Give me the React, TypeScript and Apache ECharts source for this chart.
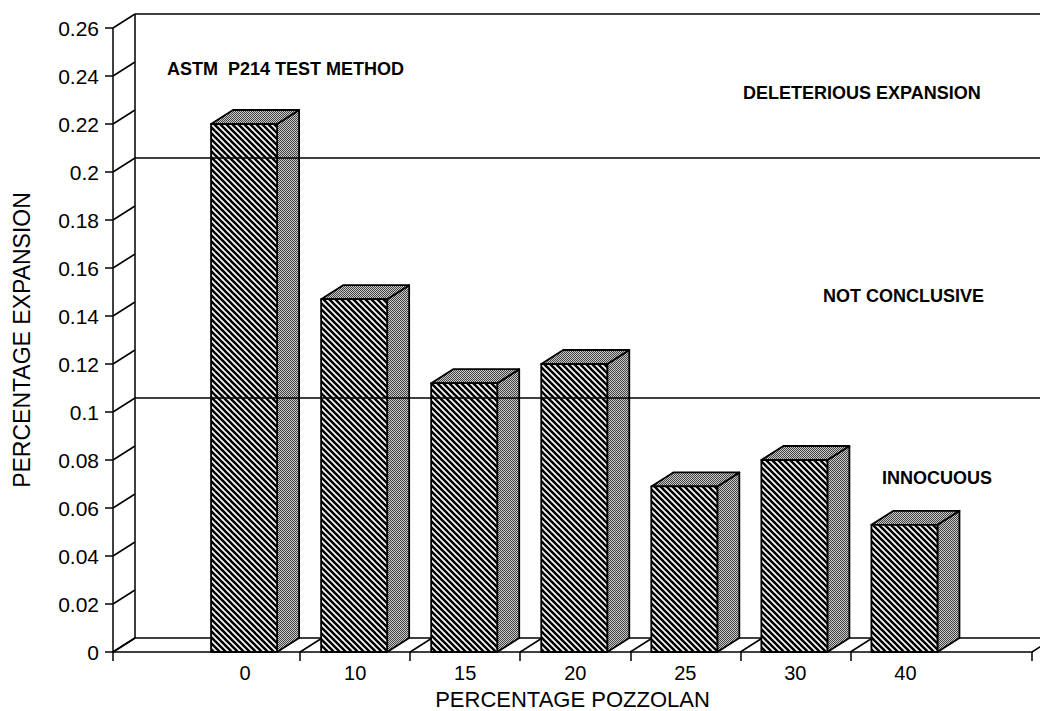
import React, { useEffect, useRef } from 'react';
import * as echarts from 'echarts';

// ---- data ----
const categories = ['0', '10', '15', '20', '25', '30', '40'];
const expansion = [0.22, 0.147, 0.112, 0.12, 0.069, 0.08, 0.053];
const yTickValues = [0, 0.02, 0.04, 0.06, 0.08, 0.1, 0.12, 0.14, 0.16, 0.18, 0.2, 0.22, 0.24, 0.26];
const thresholds = [0.1, 0.2];
const methodLabel = 'ASTM\u00a0\u00a0P214 TEST METHOD';
const zoneLabels = ['DELETERIOUS EXPANSION', 'NOT CONCLUSIVE', 'INNOCUOUS'];
const xTickPositions = [-1.2, 0.5, 1.5, 2.5, 3.5, 4.5, 5.5, 7.15];
const xLabelPositions = [0, 1, 2, 3, 4, 5, 6];

const X_MIN = -1.2;
const X_MAX = 7.15;
const Y_MAX = 0.26;
const DEPTH_UNITS = 0.2;
const DEPTH_Y = 14;
const FONT = '"Liberation Sans", Arial, Helvetica, sans-serif';

function makeHatch(): HTMLCanvasElement {
  const c = document.createElement('canvas');
  c.width = 6;
  c.height = 6;
  const g = c.getContext('2d')!;
  g.fillStyle = '#fff';
  g.fillRect(0, 0, 6, 6);
  g.strokeStyle = '#000';
  g.lineWidth = 2.6;
  for (const k of [-6, 0, 6]) {
    g.beginPath();
    g.moveTo(k - 1, -1);
    g.lineTo(k + 7, 7);
    g.stroke();
  }
  return c;
}

function makeStipple(): HTMLCanvasElement {
  const c = document.createElement('canvas');
  c.width = 2;
  c.height = 2;
  const g = c.getContext('2d')!;
  g.fillStyle = '#c8c8c8';
  g.fillRect(0, 0, 2, 2);
  g.fillStyle = '#444';
  g.fillRect(0, 0, 1, 1);
  g.fillRect(1, 1, 1, 1);
  return c;
}

export default function App() {
  const ref = useRef<HTMLDivElement>(null);

  useEffect(() => {
    if (!ref.current) return;
    const chart = echarts.init(ref.current, null, { renderer: 'svg' });
    const hatch = { image: makeHatch(), repeat: 'repeat' };
    const stipple = { image: makeStipple(), repeat: 'repeat' };
    const lineStyle = { stroke: '#000', lineWidth: 1.5 };

    const barData = categories.map((_, i) => [i, expansion[i]]);

    const option: any = {
      animation: false,
      backgroundColor: '#fff',
      grid: {
        left: 113,
        right: 8,
        top: 28,
        bottom: 59,
        containLabel: false,
        outerBoundsMode: 'none',
      },
      xAxis: {
        type: 'value',
        min: X_MIN,
        max: X_MAX,
        name: 'PERCENTAGE POZZOLAN',
        nameLocation: 'middle',
        nameGap: 36,
        nameTextStyle: { color: '#000', fontSize: 22, lineHeight: 22, fontFamily: FONT },
        axisLine: { show: true, onZero: false, lineStyle: { color: '#000', width: 1.5 } },
        axisTick: {
          show: true,
          length: 9,
          customValues: xTickPositions,
          lineStyle: { color: '#000', width: 1.5 },
        },
        axisLabel: {
          show: true,
          customValues: xLabelPositions,
          margin: 11,
          color: '#000',
          fontSize: 20,
          fontFamily: FONT,
          formatter: (v: number) => categories[Math.round(v)] ?? '',
        },
        splitLine: { show: false },
      },
      yAxis: {
        type: 'value',
        min: 0,
        max: Y_MAX,
        interval: 0.02,
        name: 'PERCENTAGE EXPANSION',
        nameLocation: 'middle',
        nameRotate: 90,
        nameGap: 80,
        nameTextStyle: { color: '#000', fontSize: 23, fontFamily: FONT },
        axisLine: { show: true, onZero: false, lineStyle: { color: '#000', width: 1.5 } },
        axisTick: { show: true, length: 8, lineStyle: { color: '#000', width: 1.5 } },
        axisLabel: { margin: 14, color: '#000', fontSize: 21, fontFamily: FONT },
        splitLine: { show: false },
      },
      graphic: [
        {
          type: 'text',
          left: 167,
          top: 60,
          style: { text: methodLabel, fill: '#000', font: `bold 18px ${FONT}` },
        },
        {
          type: 'text',
          left: 743,
          top: 84,
          style: { text: zoneLabels[0], fill: '#000', font: `bold 18px ${FONT}` },
        },
        {
          type: 'text',
          left: 823,
          top: 287,
          style: { text: zoneLabels[1], fill: '#000', font: `bold 18px ${FONT}` },
        },
        {
          type: 'text',
          left: 882,
          top: 469,
          style: { text: zoneLabels[2], fill: '#000', font: `bold 18px ${FONT}` },
        },
      ],
      series: [
        {
          type: 'custom',
          name: 'frame',
          z: 1,
          silent: true,
          data: [[X_MIN, 0]],
          renderItem: (params: any, api: any) => {
            const o = api.coord([X_MIN, 0]);
            const t = api.coord([X_MIN, Y_MAX]);
            const r = api.coord([X_MAX, 0]);
            const dx = api.size([1, 0])[0] * DEPTH_UNITS;
            const far = r[0] + dx + 30;
            const children: any[] = [];
            const ln = (x1: number, y1: number, x2: number, y2: number) =>
              children.push({ type: 'line', shape: { x1, y1, x2, y2 }, style: lineStyle });
            ln(o[0] + dx, t[1] - DEPTH_Y, o[0] + dx, o[1] - DEPTH_Y);
            ln(t[0] + dx, t[1] - DEPTH_Y, far, t[1] - DEPTH_Y);
            ln(o[0] + dx, o[1] - DEPTH_Y, far, o[1] - DEPTH_Y);
            yTickValues.forEach((v) => {
              const p = api.coord([X_MIN, v]);
              ln(p[0], p[1], p[0] + dx, p[1] - DEPTH_Y);
            });
            xTickPositions.forEach((xv) => {
              const p = api.coord([xv, 0]);
              ln(p[0], p[1], p[0] + dx, p[1] - DEPTH_Y);
            });
            return { type: 'group', children };
          },
        },
        {
          type: 'custom',
          name: 'PERCENTAGE EXPANSION',
          z: 2,
          data: barData,
          renderItem: (params: any, api: any) => {
            const i = api.value(0);
            const v = api.value(1);
            const base = api.coord([i, 0]);
            const top = api.coord([i, v]);
            const unit = api.size([1, 0])[0];
            const hw = unit * 0.3;
            const dx = unit * DEPTH_UNITS;
            const cx = base[0] - 1;
            const edge = { stroke: '#000', lineWidth: 1.8, lineJoin: 'round' };
            return {
              type: 'group',
              children: [
                {
                  type: 'polygon',
                  shape: {
                    points: [
                      [cx + hw, top[1]],
                      [cx + hw + dx, top[1] - DEPTH_Y],
                      [cx + hw + dx, base[1] - DEPTH_Y],
                      [cx + hw, base[1]],
                    ],
                  },
                  style: { fill: stipple, ...edge },
                },
                {
                  type: 'polygon',
                  shape: {
                    points: [
                      [cx - hw, top[1]],
                      [cx - hw + dx, top[1] - DEPTH_Y],
                      [cx + hw + dx, top[1] - DEPTH_Y],
                      [cx + hw, top[1]],
                    ],
                  },
                  style: { fill: stipple, ...edge },
                },
                {
                  type: 'rect',
                  shape: { x: cx - hw, y: top[1], width: 2 * hw, height: base[1] - top[1] },
                  style: { fill: hatch, ...edge },
                },
              ],
            };
          },
        },
        {
          type: 'custom',
          name: 'thresholds',
          z: 3,
          silent: true,
          data: thresholds.map((v) => [X_MIN, v]),
          renderItem: (params: any, api: any) => {
            const p = api.coord([X_MIN, api.value(1)]);
            const r = api.coord([X_MAX, api.value(1)]);
            const dx = api.size([1, 0])[0] * DEPTH_UNITS;
            return {
              type: 'line',
              shape: { x1: p[0] + dx, y1: p[1] - DEPTH_Y, x2: r[0] + dx + 30, y2: r[1] - DEPTH_Y },
              style: lineStyle,
            };
          },
        },
      ],
    };

    chart.setOption(option);
    return () => chart.dispose();
  }, []);

  return (
    <div
      ref={ref}
      style={{ position: 'absolute', left: 0, top: 0, width: 1040, height: 711, background: '#fff' }}
    />
  );
}
